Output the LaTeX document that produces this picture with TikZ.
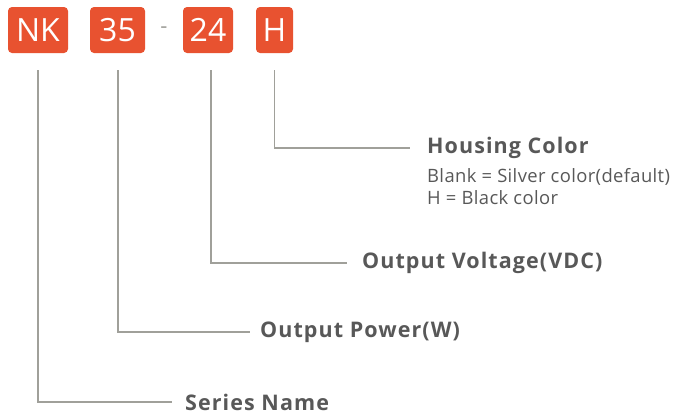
\documentclass[tikz,border=0pt]{standalone}
\usepackage{fontspec}
\setmainfont{Open Sans}
\usetikzlibrary{positioning}
\definecolor{CodeClr}{RGB}{232,82,48}
\definecolor{LineClr}{RGB}{160,160,154}
\definecolor{TextClr}{RGB}{88,88,88}

\begin{document}
\begin{tikzpicture}[x=1pt,y=-1pt,
  codebox/.style={fill=CodeClr,text=white,rounded corners=4pt,minimum height=46pt,
    inner sep=0pt,font=\fontsize{32}{32}\selectfont},
  title/.style={anchor=west,text=TextClr,inner sep=0pt,
    font=\fontsize{21.5}{21.5}\selectfont\bfseries\addfontfeature{LetterSpace=5}},
  note/.style={anchor=west,text=TextClr,inner sep=0pt,
    font=\fontsize{18.4}{18.4}\selectfont\addfontfeature{LetterSpace=2}},
  lead/.style={draw=LineClr,line width=1.2pt}]
\useasboundingbox (0,0) rectangle (687,415);

% code boxes
\node[codebox,minimum width=60pt] (nk) at (38,30) {NK};
\node[codebox,minimum width=55pt] (pw) at (117.5,30) {35};
\node[text=LineClr,font=\fontsize{22}{22}\selectfont] (dash) at (164,30) {-};
\node[codebox,minimum width=50pt] (vo) at (208,30) {24};
\node[codebox,minimum width=37pt] (hc) at (274.5,30) {H};

% start points of the leads
\coordinate (nkTop) at (38,70);
\coordinate (pwTop) at (118,70);
\coordinate (voTop) at (211,70);
\coordinate (hcTop) at (274.5,70);

% descriptions
\node[title] (hcName) at (427,148) {Housing Color};
\node[note] (hcBlank) at (427,177) {Blank = Silver color(default)};
\node[note] (hcBlack) at (427,198) {H = Black color};
\node[title] (voName) at (362,263) {Output Voltage(VDC)};
\node[title] (pwName) at (260,332) {Output Power(W)};
\node[title] (nkName) at (185,402) {Series Name};

% leads
\draw[lead,shorten >=17pt] (hcTop) |- (hcName.west);
\draw[lead,shorten >=15pt] (voTop) |- (voName.west);
\draw[lead,shorten >=10pt] (pwTop) |- (pwName.west);
\draw[lead,shorten >=13pt] (nkTop) |- (nkName.west);

\end{tikzpicture}
\end{document}
